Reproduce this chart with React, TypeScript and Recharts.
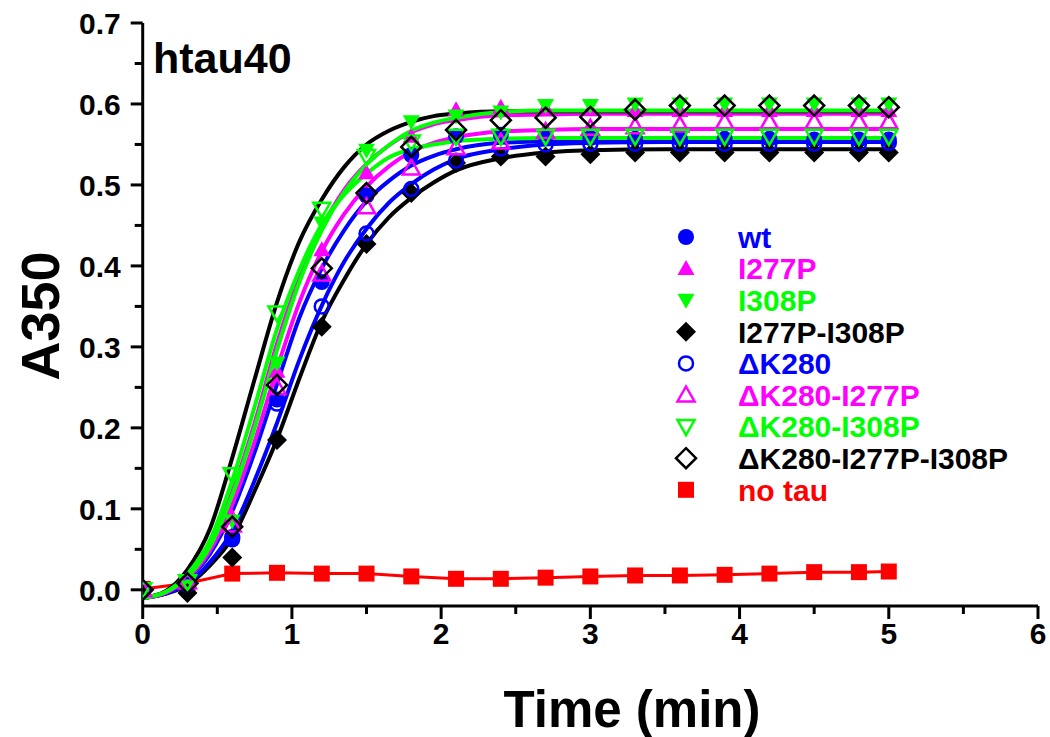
import { ComposedChart, Line, XAxis, YAxis } from "recharts";

// measured points (min)
const TIME = [0, 0.3, 0.6, 0.9, 1.2, 1.5, 1.8, 2.1, 2.4, 2.7, 3.0, 3.3, 3.6, 3.9, 4.2, 4.5, 4.8, 5.0];

const WT = [0.0, 0.008, 0.062, 0.235, 0.38, 0.487, 0.537, 0.56, 0.562, 0.56, 0.558, 0.557, 0.557, 0.557, 0.557, 0.556, 0.556, 0.556];
const I277P = [0.0, 0.01, 0.09, 0.27, 0.42, 0.515, 0.56, 0.593, 0.596, 0.595, 0.593, 0.592, 0.592, 0.592, 0.592, 0.592, 0.592, 0.592];
const I308P = [0.0, 0.008, 0.085, 0.28, 0.453, 0.543, 0.578, 0.585, 0.59, 0.598, 0.598, 0.6, 0.6, 0.6, 0.6, 0.6, 0.6, 0.6];
const I277P_I308P = [0.0, -0.004, 0.04, 0.185, 0.325, 0.427, 0.49, 0.527, 0.535, 0.535, 0.538, 0.54, 0.54, 0.54, 0.54, 0.54, 0.54, 0.54];
const DK280 = [0.0, 0.006, 0.065, 0.23, 0.35, 0.44, 0.495, 0.53, 0.545, 0.55, 0.551, 0.551, 0.551, 0.551, 0.551, 0.551, 0.551, 0.552];
const DK280_I277P = [0.0, 0.01, 0.08, 0.25, 0.39, 0.473, 0.521, 0.546, 0.553, 0.566, 0.57, 0.572, 0.574, 0.578, 0.578, 0.578, 0.578, 0.578];
const DK280_I308P = [0.0, 0.01, 0.142, 0.342, 0.47, 0.535, 0.553, 0.56, 0.56, 0.56, 0.56, 0.56, 0.56, 0.56, 0.56, 0.56, 0.56, 0.56];
const DK280_I277P_I308P = [0.0, 0.008, 0.078, 0.253, 0.397, 0.49, 0.547, 0.568, 0.58, 0.583, 0.584, 0.593, 0.598, 0.598, 0.598, 0.598, 0.598, 0.596];
const NO_TAU = [0.001, 0.008, 0.02, 0.021, 0.02, 0.02, 0.0165, 0.0136, 0.0136, 0.015, 0.0165, 0.0177, 0.0177, 0.0185, 0.02, 0.0218, 0.0218, 0.0226];

// fitted curves
const FIT_TIME = [0, 0.15, 0.3, 0.45, 0.6, 0.75, 0.9, 1.05, 1.2, 1.35, 1.5, 1.65, 1.8, 1.95, 2.1, 2.4, 2.7, 3.0, 3.5, 4.0, 5.0];

const FIT_WT = [-0.01, -0.004, 0.0126, 0.044, 0.097, 0.17, 0.254, 0.336, 0.397, 0.444, 0.48, 0.505, 0.524, 0.536, 0.544, 0.552, 0.554, 0.555, 0.555, 0.555, 0.555];
const FIT_I277P = [-0.01, -0.003, 0.017, 0.055, 0.121, 0.206, 0.304, 0.385, 0.447, 0.494, 0.526, 0.549, 0.565, 0.575, 0.58, 0.586, 0.587, 0.588, 0.588, 0.588, 0.588];
const FIT_I308P = [-0.01, -0.003, 0.016, 0.053, 0.117, 0.2, 0.296, 0.38, 0.444, 0.491, 0.525, 0.549, 0.567, 0.577, 0.583, 0.59, 0.592, 0.592, 0.592, 0.592, 0.592];
const FIT_I277P_I308P = [-0.01, -0.005, 0.006, 0.03, 0.064, 0.122, 0.186, 0.261, 0.331, 0.383, 0.427, 0.46, 0.484, 0.503, 0.518, 0.533, 0.54, 0.543, 0.544, 0.544, 0.544];
const FIT_DK280 = [-0.01, -0.005, 0.0075, 0.034, 0.073, 0.135, 0.206, 0.284, 0.351, 0.405, 0.446, 0.478, 0.501, 0.519, 0.532, 0.544, 0.55, 0.552, 0.553, 0.553, 0.553];
const FIT_DK280_I277P = [-0.01, -0.004, 0.014, 0.048, 0.105, 0.183, 0.273, 0.355, 0.418, 0.464, 0.498, 0.523, 0.541, 0.552, 0.559, 0.566, 0.568, 0.569, 0.569, 0.569, 0.569];
const FIT_DK280_I308P = [-0.01, -0.003, 0.0195, 0.061, 0.135, 0.226, 0.322, 0.395, 0.451, 0.488, 0.514, 0.534, 0.544, 0.55, 0.554, 0.557, 0.558, 0.558, 0.558, 0.558, 0.558];
const FIT_DK280_I277P_I308P = [-0.01, -0.002, 0.025, 0.075, 0.163, 0.26, 0.355, 0.43, 0.482, 0.522, 0.55, 0.567, 0.578, 0.585, 0.588, 0.591, 0.591, 0.591, 0.591, 0.591, 0.591];

const X_TICKS = [0, 0.5, 1, 1.5, 2, 2.5, 3, 3.5, 4, 4.5, 5, 5.5, 6];
const Y_TICKS = [0, 0.05, 0.1, 0.15, 0.2, 0.25, 0.3, 0.35, 0.4, 0.45, 0.5, 0.55, 0.6, 0.65, 0.7];

const BLUE = "#0000FF";
const MAGENTA = "#FF00FF";
const GREEN = "#00FF00";
const BLACK = "#000000";
const RED = "#FF0000";
const FONT = "'Liberation Sans', Arial, Helvetica, sans-serif";

type Shape = "circle" | "up" | "down" | "diamond" | "square";

const SERIES = [
  { key: "wt", label: "wt", values: WT, fit: FIT_WT, color: BLUE, shape: "circle" as Shape, filled: true },
  { key: "i277p", label: "I277P", values: I277P, fit: FIT_I277P, color: MAGENTA, shape: "up" as Shape, filled: true },
  { key: "i308p", label: "I308P", values: I308P, fit: FIT_I308P, color: GREEN, shape: "down" as Shape, filled: true },
  { key: "dbl", label: "I277P-I308P", values: I277P_I308P, fit: FIT_I277P_I308P, color: BLACK, shape: "diamond" as Shape, filled: true },
  { key: "dk", label: "ΔK280", values: DK280, fit: FIT_DK280, color: BLUE, shape: "circle" as Shape, filled: false },
  { key: "dk277", label: "ΔK280-I277P", values: DK280_I277P, fit: FIT_DK280_I277P, color: MAGENTA, shape: "up" as Shape, filled: false },
  { key: "dk308", label: "ΔK280-I308P", values: DK280_I308P, fit: FIT_DK280_I308P, color: GREEN, shape: "down" as Shape, filled: false },
  { key: "dkdbl", label: "ΔK280-I277P-I308P", values: DK280_I277P_I308P, fit: FIT_DK280_I277P_I308P, color: BLACK, shape: "diamond" as Shape, filled: false },
];

// drawing order of the fitted lines (last on top)
const FIT_ORDER = ["dbl", "dk", "wt", "dk277", "i277p", "dkdbl", "i308p", "dk308"];

const markerRows = TIME.map((t, i) => {
  const row: Record<string, number> = { t, noTau: NO_TAU[i] };
  SERIES.forEach((s) => (row[s.key] = s.values[i]));
  return row;
});

const fitRows = FIT_TIME.map((t, i) => {
  const row: Record<string, number> = { t };
  SERIES.forEach((s) => (row[s.key] = s.fit[i]));
  return row;
});

function Marker({ cx, cy, shape, color, filled }: { cx: number; cy: number; shape: Shape; color: string; filled: boolean }) {
  const fill = filled ? color : "none";
  const sw = filled ? 0 : 2.5;
  if (cx == null || cy == null) return null;
  switch (shape) {
    case "circle":
      return <circle cx={cx} cy={cy} r={filled ? 8 : 7} fill={fill} stroke={color} strokeWidth={sw} />;
    case "up":
      return <polygon points={`${cx},${cy - 8.5} ${cx - 8.5},${cy + 6.5} ${cx + 8.5},${cy + 6.5}`} fill={fill} stroke={color} strokeWidth={sw} />;
    case "down":
      return <polygon points={`${cx},${cy + 8.5} ${cx - 8.5},${cy - 6.5} ${cx + 8.5},${cy - 6.5}`} fill={fill} stroke={color} strokeWidth={sw} />;
    case "diamond":
      return <polygon points={`${cx},${cy - 10} ${cx + 10},${cy} ${cx},${cy + 10} ${cx - 10},${cy}`} fill={fill} stroke={color} strokeWidth={sw} />;
    default:
      return <rect x={cx - 8} y={cy - 8} width={16} height={16} fill={color} />;
  }
}

function XTick(props: any) {
  const { x, y, payload } = props;
  const major = Number.isInteger(payload.value);
  return (
    <g>
      <line x1={x} x2={x} y1={y} y2={y + (major ? 13 : 8)} stroke="#000" strokeWidth={3} />
      {major && (
        <text x={x} y={y + 38} textAnchor="middle" fontFamily={FONT} fontWeight="bold" fontSize={30} fill="#000">
          {payload.value}
        </text>
      )}
    </g>
  );
}

function YTick(props: any) {
  const { x, y, payload } = props;
  const major = Math.round(payload.value * 100) % 10 === 0;
  return (
    <g>
      <line x1={x} x2={x - (major ? 12 : 8)} y1={y} y2={y} stroke="#000" strokeWidth={3} />
      {major && (
        <text x={x - 22} y={y} dy="0.36em" textAnchor="end" fontFamily={FONT} fontWeight="bold" fontSize={30} fill="#000">
          {payload.value.toFixed(1)}
        </text>
      )}
    </g>
  );
}

const LEGEND_ITEMS = [
  ...SERIES.map((s) => ({ label: s.label, color: s.color, shape: s.shape, filled: s.filled })),
  { label: "no tau", color: RED, shape: "square" as Shape, filled: true },
];

export default function App() {
  return (
    <div style={{ position: "absolute", left: 0, top: 0, width: 1050, height: 737, overflow: "hidden" }}>
      <ComposedChart width={1050} height={737} margin={{ top: 23, right: 12, bottom: 0, left: 0 }}>
        <XAxis
          dataKey="t"
          type="number"
          domain={[0, 6]}
          ticks={X_TICKS}
          interval={0}
          height={131}
          tickSize={0}
          tickMargin={0}
          tickLine={false}
          tick={<XTick />}
          axisLine={{ stroke: "#000", strokeWidth: 3 }}
          allowDataOverflow
          label={() => (
            <text x={632} y={727} textAnchor="middle" fontFamily={FONT} fontWeight="bold" fontSize={51} fill="#000">
              Time (min)
            </text>
          )}
        />
        <XAxis xAxisId="top" orientation="top" type="number" domain={[0, 6]} height={0} tick={false} tickLine={false} axisLine={{ stroke: "#000", strokeWidth: 3 }} />
        <YAxis
          type="number"
          domain={[-0.02, 0.7]}
          ticks={Y_TICKS}
          interval={0}
          width={142.7}
          tickSize={0}
          tickMargin={0}
          tickLine={false}
          tick={<YTick />}
          axisLine={{ stroke: "#000", strokeWidth: 3 }}
          allowDataOverflow
          label={() => (
            <text
              x={0}
              y={0}
              transform="translate(40,316) rotate(-90)"
              dy="0.36em"
              textAnchor="middle"
              fontFamily={FONT}
              fontWeight="bold"
              fontSize={54}
              fill="#000"
            >
              A350
            </text>
          )}
        />
        <YAxis yAxisId="right" orientation="right" width={0} tick={false} tickLine={false} axisLine={{ stroke: "#000", strokeWidth: 3 }} />

        <Line
          data={markerRows}
          dataKey="noTau"
          type="linear"
          stroke={RED}
          strokeWidth={3}
          isAnimationActive={false}
          activeDot={false}
          dot={(p: any) => <Marker key={`nt-${p.index}`} cx={p.cx} cy={p.cy} shape="square" color={RED} filled />}
        />

        {SERIES.map((s) => (
          <Line
            key={`m-${s.key}`}
            data={markerRows}
            dataKey={s.key}
            stroke="none"
            isAnimationActive={false}
            activeDot={false}
            dot={(p: any) => <Marker key={`${s.key}-${p.index}`} cx={p.cx} cy={p.cy} shape={s.shape} color={s.color} filled={s.filled} />}
          />
        ))}

        {FIT_ORDER.map((k) => {
          const s = SERIES.find((x) => x.key === k)!;
          return (
            <Line
              key={`f-${k}`}
              data={fitRows}
              dataKey={k}
              type="monotone"
              stroke={s.color}
              strokeWidth={4}
              dot={false}
              activeDot={false}
              isAnimationActive={false}
            />
          );
        })}
      </ComposedChart>

      <svg width={1050} height={737} style={{ position: "absolute", left: 0, top: 0, pointerEvents: "none" }}>
        <text x={153} y={73} fontFamily={FONT} fontWeight="bold" fontSize={43} fill="#000">
          htau40
        </text>
        {LEGEND_ITEMS.map((it, i) => {
          const cy = 237 + i * 31.6;
          return (
            <g key={it.label}>
              <Marker cx={686} cy={cy} shape={it.shape} color={it.color} filled={it.filled} />
              <text x={738} y={cy} dy="0.36em" fontFamily={FONT} fontWeight="bold" fontSize={30} fill={it.color}>
                {it.label}
              </text>
            </g>
          );
        })}
      </svg>
    </div>
  );
}
